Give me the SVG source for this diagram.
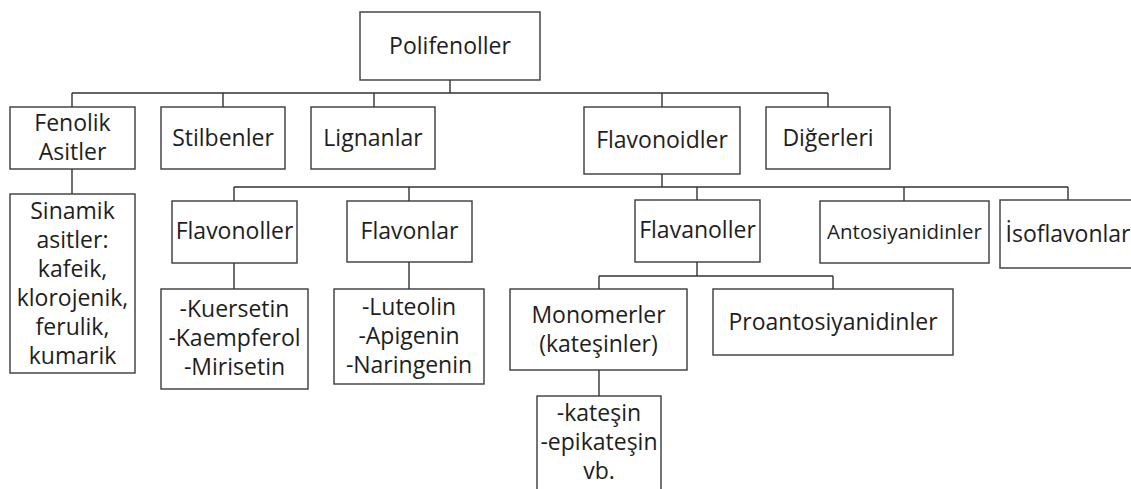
<svg xmlns="http://www.w3.org/2000/svg" width="1131" height="489" viewBox="0 0 1131 489">
<style>
.box{fill:#fff;stroke:#3a3a3a;stroke-width:1.4}
.t{font-family:"Open Sans","Liberation Sans",sans-serif;font-size:23px;fill:#1e1e1e;text-anchor:middle}
.s{font-size:20.5px}
.c{fill:none;stroke:#333;stroke-width:1.4}
</style>
<rect width="1131" height="489" fill="#fff"/>
<g id="connectors">
<path class="c" d="M450 80V93M72 93H828M72 93V107M223 93V107M374 93V107M662 93V107M828 93V107"/>
<path class="c" d="M72 169V194"/>
<path class="c" d="M662 174V187M234 187H1068M234 187V201M409 187V201M697 187V200M904 187V201M1068 187V200"/>
<path class="c" d="M234 263V289M409 262V289"/>
<path class="c" d="M697 262V276M599 276H833M599 276V289M833 276V289"/>
<path class="c" d="M599 370V396"/>
</g>
<g id="polifenoller"><rect class="box" x="360" y="12" width="180" height="68"/><text class="t" x="450" y="54">Polifenoller</text></g>
<g id="fenolik"><rect class="box" x="10" y="107" width="125" height="62"/><text class="t" x="72.5" y="131">Fenolik</text><text class="t" x="72.5" y="160">Asitler</text></g>
<g id="stilbenler"><rect class="box" x="161" y="107" width="124" height="62"/><text class="t" x="223" y="146">Stilbenler</text></g>
<g id="lignanlar"><rect class="box" x="311" y="107" width="124" height="62"/><text class="t" x="373" y="146">Lignanlar</text></g>
<g id="flavonoidler"><rect class="box" x="584" y="107" width="156" height="67"/><text class="t" x="662" y="148">Flavonoidler</text></g>
<g id="digerleri"><rect class="box" x="766" y="107" width="124" height="62"/><text class="t" x="828" y="146">Diğerleri</text></g>
<g id="sinamik"><rect class="box" x="10" y="194" width="125" height="179"/>
<text class="t" x="72.5" y="219">Sinamik</text><text class="t" x="72.5" y="248">asitler:</text><text class="t" x="72.5" y="277">kafeik,</text><text class="t" x="72.5" y="306">klorojenik,</text><text class="t" x="72.5" y="335">ferulik,</text><text class="t" x="72.5" y="364">kumarik</text></g>
<g id="flavonoller"><rect class="box" x="172" y="201" width="125" height="62"/><text class="t" x="234.5" y="239">Flavonoller</text></g>
<g id="kuersetin"><rect class="box" x="161" y="289" width="147" height="100"/>
<text class="t" x="234.5" y="317">-Kuersetin</text><text class="t" x="234.5" y="346">-Kaempferol</text><text class="t" x="234.5" y="375">-Mirisetin</text></g>
<g id="flavonlar"><rect class="box" x="347" y="201" width="125" height="61"/><text class="t" x="409.5" y="239">Flavonlar</text></g>
<g id="luteolin"><rect class="box" x="334" y="289" width="150" height="95"/>
<text class="t" x="409" y="315">-Luteolin</text><text class="t" x="409" y="344">-Apigenin</text><text class="t" x="409" y="373">-Naringenin</text></g>
<g id="flavanoller"><rect class="box" x="635" y="200" width="125" height="62"/><text class="t" x="697.5" y="238">Flavanoller</text></g>
<g id="antosiyanidinler"><rect class="box" x="820" y="201" width="169" height="62"/><text class="t s" x="904.5" y="239">Antosiyanidinler</text></g>
<g id="isoflavonlar"><rect class="box" x="1000" y="200" width="140" height="68"/><text class="t" x="1068" y="242">İsoflavonlar</text></g>
<g id="monomerler"><rect class="box" x="510" y="289" width="177" height="81"/>
<text class="t" x="598.5" y="323">Monomerler</text><text class="t" x="598.5" y="352">(kateşinler)</text></g>
<g id="proantosiyanidinler"><rect class="box" x="713" y="289" width="240" height="66"/><text class="t" x="833" y="330">Proantosiyanidinler</text></g>
<g id="katesin"><rect class="box" x="537" y="396" width="124" height="110"/>
<text class="t" x="599" y="421">-kateşin</text><text class="t" x="599" y="450">-epikateşin</text><text class="t" x="599" y="479">vb.</text></g>
</svg>
